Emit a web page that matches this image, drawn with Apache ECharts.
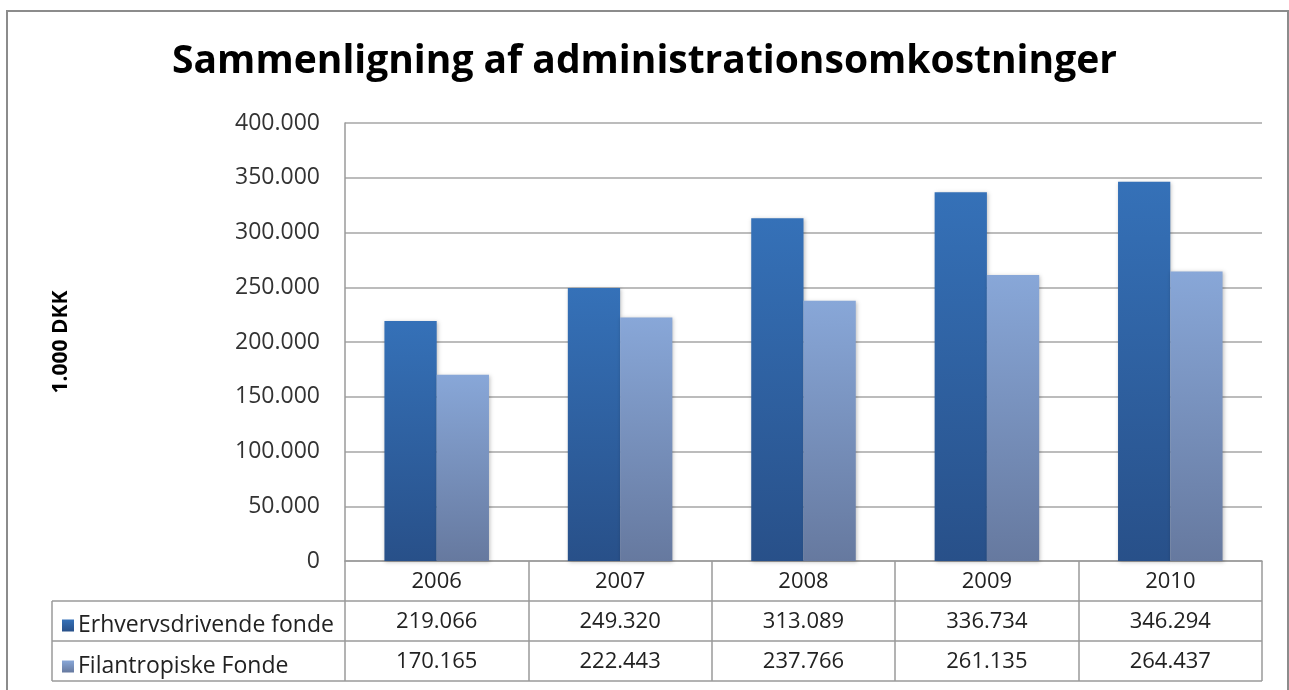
<!DOCTYPE html>
<html>
<head>
<meta charset="utf-8">
<script src="https://cdn.jsdelivr.net/npm/echarts@6/dist/echarts.min.js"></script>
<style>
html,body{margin:0;padding:0;background:#fff;}
#c{width:1289px;height:690px;}
</style>
</head>
<body>
<div id="c"></div>
<script>
var titleText = 'Sammenligning af administrationsomkostninger';
var yAxisName = '1.000 DKK';
var categories = ['2006', '2007', '2008', '2009', '2010'];
var seriesNames = ['Erhvervsdrivende fonde', 'Filantropiske Fonde'];
var erhvervs = [219066, 249320, 313089, 336734, 346294];
var filantropiske = [170165, 222443, 237766, 261135, 264437];
var yTicks = { min: 0, max: 400000, interval: 50000 };

function fmt(v) {
  return String(Math.round(v)).replace(/\B(?=(\d{3})+(?!\d))/g, '.');
}

var FONT = 'Open Sans';
var FS = 22;
var chart = echarts.init(document.getElementById('c'));

var gridL = 345, gridR = 1262, gridT = 123, gridB = 561;
var tableL = 52, rowH = 40;

function hline(y, x1, x2) {
  return { type: 'line', shape: { x1: x1, y1: y, x2: x2, y2: y }, style: { stroke: '#9a9a9a', lineWidth: 1.5 }, z: 10 };
}
function vline(x, y1, y2) {
  return { type: 'line', shape: { x1: x, y1: y1, x2: x, y2: y2 }, style: { stroke: '#9a9a9a', lineWidth: 1.5 }, z: 10 };
}

var valueAxis = function (arr, idx) {
  return {
    type: 'category', gridIndex: 0, position: 'bottom', offset: rowH * idx,
    data: arr.map(fmt),
    axisLine: { show: false }, axisTick: { show: false },
    axisLabel: { fontFamily: FONT, fontSize: FS, color: '#222', margin: 21, verticalAlign: 'middle', interval: 0 }
  };
};

chart.setOption({
  animation: false,
  backgroundColor: '#fff',
  title: {
    text: titleText, left: 'center', top: 37,
    textStyle: { fontFamily: FONT, fontWeight: 'bold', fontSize: 39, color: '#000' }
  },
  legend: {
    orient: 'vertical', left: 57, top: 609,
    itemWidth: 12, itemHeight: 12, itemGap: 18,
    icon: 'rect',
    data: seriesNames,
    selectedMode: false,
    textStyle: { fontFamily: FONT, fontSize: 23, color: '#222', lineHeight: 22, padding: [-4, 0, 0, -1] }
  },
  grid: { left: gridL, right: 1289 - gridR, top: gridT, bottom: 690 - gridB, containLabel: false },
  xAxis: [
    {
      type: 'category', data: categories,
      axisLine: { show: true, lineStyle: { color: '#9a9a9a', width: 1.5 } },
      axisTick: { show: true, length: rowH * 3, lineStyle: { color: '#9a9a9a', width: 1.5 } },
      axisLabel: { fontFamily: FONT, fontSize: FS, color: '#222', margin: 21, verticalAlign: 'middle' }
    },
    valueAxis(erhvervs, 1),
    valueAxis(filantropiske, 2)
  ],
  yAxis: {
    type: 'value', min: yTicks.min, max: yTicks.max, interval: yTicks.interval,
    name: yAxisName, nameLocation: 'middle', nameGap: 273, nameRotate: 90,
    nameTextStyle: { fontFamily: FONT, fontWeight: 'bold', fontSize: 21, color: '#000' },
    axisLine: { show: true, lineStyle: { color: '#9a9a9a', width: 1.5 } },
    axisTick: { show: false },
    axisLabel: { fontFamily: FONT, fontSize: 23, color: '#333', margin: 25, formatter: fmt },
    splitLine: { lineStyle: { color: '#a6a6a6', width: 1.5 } }
  },
  series: [
    {
      name: seriesNames[0], type: 'bar', data: erhvervs, barGap: '0%', barCategoryGap: '43%',
      itemStyle: {
        color: new echarts.graphic.LinearGradient(0, 0, 0, 1, [
          { offset: 0, color: '#3571b8' }, { offset: 1, color: '#285089' }
        ]),
        shadowBlur: 4, shadowColor: 'rgba(0,0,0,0.25)', shadowOffsetX: 1, shadowOffsetY: 1
      }
    },
    {
      name: seriesNames[1], type: 'bar', data: filantropiske,
      itemStyle: {
        color: new echarts.graphic.LinearGradient(0, 0, 0, 1, [
          { offset: 0, color: '#88a7d8' }, { offset: 1, color: '#66799f' }
        ]),
        shadowBlur: 4, shadowColor: 'rgba(0,0,0,0.25)', shadowOffsetX: 1, shadowOffsetY: 1
      }
    }
  ],
  graphic: [
    hline(gridB + rowH, tableL, gridR),
    hline(gridB + rowH * 2, tableL, gridR),
    hline(gridB + rowH * 3, tableL, gridR),
    vline(tableL, gridB + rowH, gridB + rowH * 3),
    { type: 'rect', shape: { x: 7, y: 11, width: 1281, height: 700 }, style: { fill: 'none', stroke: '#8c8c8c', lineWidth: 2 }, z: 10 }
  ]
});
</script>
</body>
</html>
